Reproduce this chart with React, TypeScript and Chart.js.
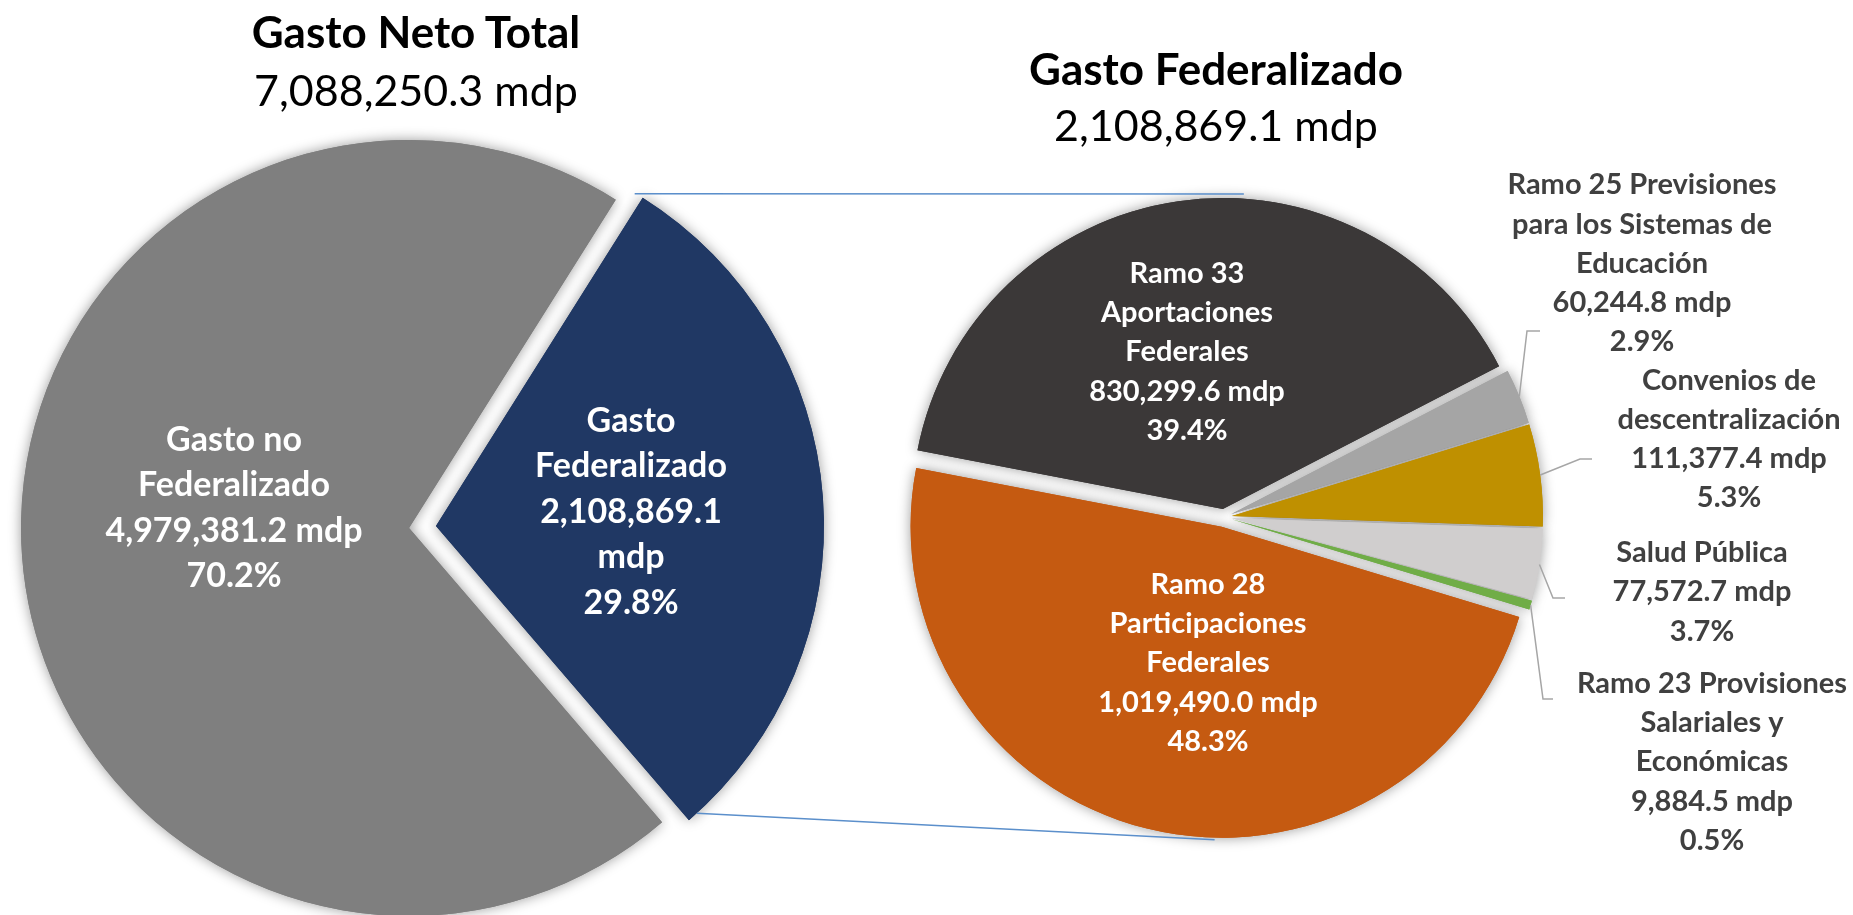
import React, { useEffect, useRef } from "react";
import { Chart, registerables } from "chart.js";

Chart.register(...registerables);

// ---------------- DATA ----------------
const totalCategories: string[][] = [["Gasto no", "Federalizado"], ["Gasto", "Federalizado"]];
const totalValues: number[] = [4979381.2, 2108869.1];
const totalColors: string[] = ["#7F7F7F", "#203864"];

const fedCategories: string[][] = [
  ["Ramo 33", "Aportaciones", "Federales"],
  ["Ramo 25 Previsiones", "para los Sistemas de", "Educación"],
  ["Convenios de", "descentralización"],
  ["Salud Pública"],
  ["Ramo 23 Provisiones", "Salariales y", "Económicas"],
  ["Ramo 28", "Participaciones", "Federales"],
];
const fedValues: number[] = [830299.6, 60244.8, 111377.4, 77572.7, 9884.5, 1019490.0];
const fedColors: string[] = ["#3B3838", "#A5A5A5", "#BF9000", "#D0CECE", "#70AD47", "#C55A11"];

const leftTitle = "Gasto Neto Total";
const rightTitle = "Gasto Federalizado";

// ---------------- LAYOUT ----------------
const W = 1853;
const H = 915;
const FONT = '"Lato", "Open Sans", sans-serif';

const LEFT = { cx: 422.5, cy: 527, r: 388, rotation: 139.3, explode: [13.5, 13.5] };
const RIGHT = { cx: 1224, cy: 517, r: 311, rotation: 280.9, explode: [8, 8, 8, 8, 8, 10] };

type Placement = {
  dx: number;
  dy: number;
  color: string;
  wrapValue?: boolean;
  elbow?: [number, number];
  end?: [number, number];
};

const leftPlacements: Placement[] = [
  { dx: -188.5, dy: -19, color: "#FFFFFF" },
  { dx: 208.5, dy: -15, color: "#FFFFFF", wrapValue: true },
];
const rightPlacements: Placement[] = [
  { dx: -37, dy: -165, color: "#FFFFFF" },
  { dx: 418, dy: -253.5, color: "#404040", elbow: [303, -186], end: [316, -186] },
  { dx: 505, dy: -78, color: "#404040", elbow: [356, -58], end: [368, -58] },
  { dx: 478, dy: 75, color: "#404040", elbow: [329, 81], end: [341, 81] },
  { dx: 488, dy: 245, color: "#404040", elbow: [319, 182], end: [329, 182] },
  { dx: -16, dy: 146, color: "#FFFFFF" },
];

const fmt = (v: number) =>
  v.toLocaleString("en-US", { minimumFractionDigits: 1, maximumFractionDigits: 1 });

function paddingFor(cx: number, cy: number) {
  const left = cx < W / 2 ? 0 : 2 * cx - W;
  const right = cx < W / 2 ? W - 2 * cx : 0;
  const top = cy < H / 2 ? 0 : 2 * cy - H;
  const bottom = cy < H / 2 ? H - 2 * cy : 0;
  return { left, right, top, bottom };
}

// ---------------- PLUGINS ----------------
const explodePlugin = {
  id: "explodeSlices",
  afterDatasetUpdate(chart: any, args: any) {
    const ds: any = chart.data.datasets[args.index];
    const ex: number[] = ds.explode || [];
    args.meta.data.forEach((arc: any, i: number) => {
      const mid = (arc.startAngle + arc.endAngle) / 2;
      const e = ex[i] || 0;
      arc.x += Math.cos(mid) * e;
      arc.y += Math.sin(mid) * e;
    });
  },
};

const shadowPlugin = {
  id: "pieShadow",
  beforeDatasetDraw(chart: any, args: any) {
    const ctx = chart.ctx;
    ctx.save();
    ctx.shadowColor = "rgba(0,0,0,0.4)";
    ctx.shadowBlur = 13;
    args.meta.data.forEach((a: any) => a.draw(ctx));
    ctx.restore();
  },
};

function makeLabelPlugin(
  names: string[][],
  placements: Placement[],
  fontSize: number,
  lineHeight: number
) {
  return {
    id: "sliceLabels",
    afterDatasetsDraw(chart: any) {
      const ctx: CanvasRenderingContext2D = chart.ctx;
      const area = chart.chartArea;
      const cx = (area.left + area.right) / 2;
      const cy = (area.top + area.bottom) / 2;
      const meta = chart.getDatasetMeta(0);
      const values = chart.data.datasets[0].data as number[];
      const total = values.reduce((a, b) => a + b, 0);
      ctx.save();
      meta.data.forEach((arc: any, i: number) => {
        const p = placements[i];
        const v = values[i];
        const lines = [...names[i]];
        if (p.wrapValue) {
          lines.push(fmt(v), "mdp");
        } else {
          lines.push(fmt(v) + " mdp");
        }
        lines.push(((v / total) * 100).toFixed(1) + "%");

        if (p.elbow && p.end) {
          const mid = (arc.startAngle + arc.endAngle) / 2;
          const sx = arc.x + Math.cos(mid) * arc.outerRadius;
          const sy = arc.y + Math.sin(mid) * arc.outerRadius;
          ctx.beginPath();
          ctx.strokeStyle = "#A6A6A6";
          ctx.lineWidth = 1.5;
          ctx.moveTo(sx, sy);
          ctx.lineTo(cx + p.elbow[0], cy + p.elbow[1]);
          ctx.lineTo(cx + p.end[0], cy + p.end[1]);
          ctx.stroke();
        }

        ctx.fillStyle = p.color;
        ctx.font = `bold ${fontSize}px ${FONT}`;
        ctx.textAlign = "center";
        ctx.textBaseline = "middle";
        const lx = cx + p.dx;
        const ly = cy + p.dy;
        const n = lines.length;
        lines.forEach((t, k) => {
          ctx.fillText(t, lx, ly + (k - (n - 1) / 2) * lineHeight);
        });
      });
      ctx.restore();
    },
  };
}

function makeConnectorPlugin(getLeft: () => any) {
  return {
    id: "connectors",
    afterDraw(chart: any) {
      const left = getLeft();
      if (!left) return;
      const blue = left.getDatasetMeta(0).data[1] as any;
      const meta = chart.getDatasetMeta(0);
      const top = meta.data[0] as any;
      const bottom = meta.data[meta.data.length - 1] as any;
      const bTop = {
        x: blue.x + Math.cos(blue.startAngle) * blue.outerRadius,
        y: blue.y + Math.sin(blue.startAngle) * blue.outerRadius,
      };
      const bBot = {
        x: blue.x + Math.cos(blue.endAngle) * blue.outerRadius,
        y: blue.y + Math.sin(blue.endAngle) * blue.outerRadius,
      };
      const rTop = { x: top.x, y: top.y - top.outerRadius };
      const rBot = { x: bottom.x, y: bottom.y + bottom.outerRadius };
      const ctx: CanvasRenderingContext2D = chart.ctx;
      ctx.save();
      ctx.strokeStyle = "#5B8FCB";
      ctx.lineWidth = 1.5;
      ctx.beginPath();
      ctx.moveTo(bTop.x - 8, bTop.y - 4);
      ctx.lineTo(rTop.x + 21, rTop.y - 4);
      ctx.moveTo(bBot.x + 8, bBot.y - 7);
      ctx.lineTo(rBot.x - 7, rBot.y + 2);
      ctx.stroke();
      ctx.restore();
    },
  };
}

// ---------------- COMPONENT ----------------
export default function App() {
  const leftRef = useRef<HTMLCanvasElement>(null);
  const rightRef = useRef<HTMLCanvasElement>(null);

  useEffect(() => {
    let leftChart: any = null;
    const commonOpts = (cfg: typeof LEFT) => ({
      responsive: false,
      animation: false as const,
      devicePixelRatio: 1,
      events: [],
      rotation: cfg.rotation,
      radius: cfg.r,
      layout: { padding: paddingFor(cfg.cx, cfg.cy) },
      plugins: { legend: { display: false }, tooltip: { enabled: false } },
    });

    leftChart = new Chart(leftRef.current as HTMLCanvasElement, {
      type: "pie",
      data: {
        labels: totalCategories.map((l) => l.join(" ")),
        datasets: [
          {
            data: totalValues,
            backgroundColor: totalColors,
            borderWidth: 0,
            clip: false,
            explode: LEFT.explode,
          } as any,
        ],
      },
      options: commonOpts(LEFT) as any,
      plugins: [explodePlugin, shadowPlugin, makeLabelPlugin(totalCategories, leftPlacements, 34, 45.5)],
    });

    const rightChart = new Chart(rightRef.current as HTMLCanvasElement, {
      type: "pie",
      data: {
        labels: fedCategories.map((l) => l.join(" ")),
        datasets: [
          {
            data: fedValues,
            backgroundColor: fedColors,
            borderWidth: 0,
            clip: false,
            explode: RIGHT.explode,
          } as any,
        ],
      },
      options: commonOpts(RIGHT) as any,
      plugins: [
        explodePlugin,
        shadowPlugin,
        makeLabelPlugin(fedCategories, rightPlacements, 29, 39.2),
        makeConnectorPlugin(() => leftChart),
      ],
    });

    return () => {
      rightChart.destroy();
      leftChart.destroy();
    };
  }, []);

  const totalSum = totalValues.reduce((a, b) => a + b, 0);
  const titleStyle = (x: number, y: number, bold: boolean): React.CSSProperties => ({
    position: "absolute",
    left: x,
    top: y,
    transform: "translate(-50%, -50%)",
    whiteSpace: "nowrap",
    fontFamily: FONT,
    fontWeight: bold ? 700 : 400,
    fontSize: bold ? 44 : 43,
    lineHeight: 1,
    color: "#000000",
  });

  return (
    <div
      style={{
        position: "absolute",
        left: 0,
        top: 0,
        width: W,
        height: H,
        overflow: "hidden",
        background: "#FFFFFF",
      }}
    >
      <canvas ref={leftRef} width={W} height={H} style={{ position: "absolute", left: 0, top: 0, width: W, height: H }} />
      <canvas ref={rightRef} width={W} height={H} style={{ position: "absolute", left: 0, top: 0, width: W, height: H }} />
      <div style={titleStyle(416, 31, true)}>{leftTitle}</div>
      <div style={titleStyle(416, 89, false)}>{fmt(totalSum)} mdp</div>
      <div style={titleStyle(1216, 68, true)}>{rightTitle}</div>
      <div style={titleStyle(1216, 124, false)}>{fmt(totalValues[1])} mdp</div>
    </div>
  );
}
